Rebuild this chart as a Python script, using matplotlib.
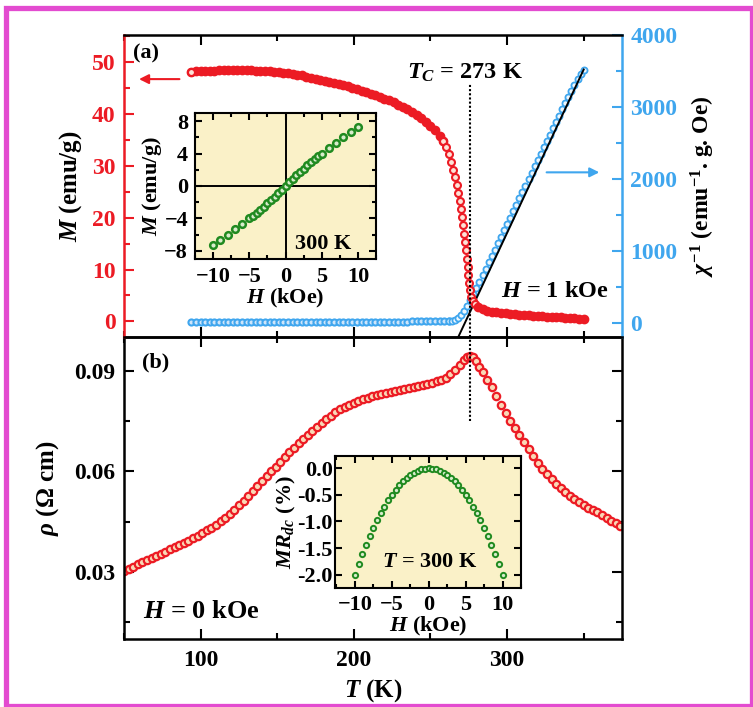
import matplotlib
matplotlib.use("Agg")
import matplotlib.pyplot as plt
from matplotlib.patches import Rectangle
from matplotlib.ticker import MultipleLocator

plt.rcParams["font.family"] = "Liberation Serif"
plt.rcParams["font.weight"] = "bold"
plt.rcParams["axes.labelweight"] = "bold"
plt.rcParams["mathtext.fontset"] = "custom"
plt.rcParams["mathtext.rm"] = "Liberation Serif:bold"
plt.rcParams["mathtext.it"] = "Liberation Serif:italic:bold"
plt.rcParams["mathtext.bf"] = "Liberation Serif:bold"

RED = "#ec1b24"
BLUE = "#3fa6ee"
GREEN = "#208a20"
PINK = "#e34bd0"
CREAM = "#faf1c8"

# (a) M(T) at H = 1 kOe
M_T = [94, 97, 100, 103, 106, 109, 112, 115, 118, 121, 124, 127, 130, 133, 136,
       139, 142, 145, 148, 151, 154, 157, 160, 163, 166, 169, 172, 175, 178, 181,
       184, 187, 190, 193, 196, 199, 202, 205, 208, 211, 214, 217, 220, 223, 226,
       229, 232, 235, 238, 241, 244, 247, 250, 253, 256, 258, 260, 262, 263.5, 265,
       266, 267, 268, 269, 269.8, 270.6, 271.3, 272, 272.6, 273.2, 273.8, 274.3,
       274.8, 275.3, 275.8, 276.5, 277.5, 279, 281, 284, 287, 290, 293, 296, 299,
       302, 305, 308, 311, 314, 317, 320, 323, 326, 329, 332, 335, 338, 341, 344,
       347, 350]
M_VAL = [48.1, 48.2, 48.2, 48.3, 48.3, 48.3, 48.4, 48.4, 48.4, 48.4, 48.4, 48.4,
         48.4, 48.4, 48.3, 48.3, 48.2, 48.2, 48.1, 48.0, 47.9, 47.8, 47.7, 47.5,
         47.4, 47.2, 47.0, 46.8, 46.6, 46.4, 46.2, 46.0, 45.8, 45.5, 45.3, 45.0,
         44.8, 44.5, 44.2, 43.9, 43.6, 43.3, 42.9, 42.6, 42.2, 41.8, 41.4, 40.9,
         40.4, 39.8, 39.2, 38.5, 37.7, 36.8, 35.7, 34.8, 33.6, 32.2, 30.8, 29.2,
         27.8, 26.3, 24.8, 23.2, 21.7, 20.1, 18.5, 16.9, 15.3, 13.7, 12.1, 10.5,
         8.9, 7.4, 6.0, 4.8, 3.9, 3.3, 2.7, 2.3, 2.1, 1.9, 1.8, 1.7, 1.6, 1.5, 1.4,
         1.3, 1.25, 1.2, 1.1, 1.05, 1.0, 0.95, 0.9, 0.85, 0.8, 0.75, 0.7, 0.6,
         0.55, 0.5]

# (a) inverse susceptibility
CHI_T = [94, 97, 100, 103, 106, 109, 112, 115, 118, 121, 124, 127, 130, 133, 136,
         139, 142, 145, 148, 151, 154, 157, 160, 163, 166, 169, 172, 175, 178, 181,
         184, 187, 190, 193, 196, 199, 202, 205, 208, 211, 214, 217, 220, 223, 226,
         229, 232, 235, 238, 241, 244, 247, 250, 253, 256, 259, 262, 264, 266, 268,
         270, 272, 274, 276, 278, 280, 282, 284, 286, 288, 290, 292, 294, 296, 298,
         300, 302, 304, 306, 308, 310, 312, 314, 316, 318, 320, 322, 324, 326, 328,
         330, 332, 334, 336, 338, 340, 342, 344, 346, 348, 350]
CHI_VAL = [5, 5, 5, 5, 6, 6, 6, 6, 6, 7, 7, 7, 7, 7, 7, 8, 8, 8, 8, 8, 8, 9, 9, 9,
           9, 9, 9, 10, 10, 10, 10, 10, 11, 11, 11, 11, 12, 12, 12, 12, 13, 13, 13,
           14, 14, 14, 15, 15, 16, 16, 17, 17, 18, 18, 19, 20, 22, 20, 35, 60, 100,
           160, 235, 315, 400, 485, 570, 660, 750, 840, 925, 1015, 1105, 1195, 1285,
           1370, 1460, 1550, 1640, 1730, 1815, 1905, 1995, 2085, 2175, 2260, 2350,
           2440, 2530, 2615, 2705, 2795, 2880, 2970, 3055, 3140, 3225, 3310, 3390,
           3460, 3520]

# Curie-Weiss fit line (end points)
FIT_T = [267.5, 350.0]
FIT_CHI = [-230, 3520]

# (a) inset: M(H) at 300 K
LOOP_H = [-10, -9, -8, -7, -6, -5, -4.5, -4, -3.5, -3, -2.5, -2, -1.5, -1, -0.5, 0,
          0.5, 1, 1.5, 2, 2.5, 3, 3.5, 4, 4.5, 5, 6, 7, 8, 9, 10]
LOOP_M = [-7.3, -6.6, -6.0, -5.3, -4.65, -4.0, -3.65, -3.3, -2.95, -2.55, -2.15,
          -1.75, -1.3, -0.9, -0.45, 0.0, 0.45, 0.9, 1.3, 1.75, 2.15, 2.55, 2.95,
          3.3, 3.65, 4.0, 4.65, 5.3, 6.0, 6.6, 7.3]

# (b) resistivity at H = 0
RHO_T = [50, 53, 56, 59, 62, 65, 68, 71, 74, 77, 80, 83, 86, 89, 92, 95, 98, 101,
         104, 107, 110, 113, 116, 119, 122, 125, 128, 131, 134, 137, 140, 143, 146,
         149, 152, 155, 158, 161, 164, 167, 170, 173, 176, 179, 182, 185, 188, 191,
         194, 197, 200, 203, 206, 209, 212, 215, 218, 221, 224, 227, 230, 233, 236,
         239, 242, 245, 248, 251, 254, 257, 260, 263, 266, 269, 272, 274, 276, 278,
         280, 282, 284, 287, 290, 293, 296, 299, 302, 305, 308, 311, 314, 317, 320,
         323, 326, 329, 332, 335, 338, 341, 344, 347, 350, 353, 356, 359, 362, 365,
         368, 371, 374]
RHO_VAL = [0.0304, 0.0310, 0.0316, 0.0323, 0.0329, 0.0335, 0.0341, 0.0348, 0.0354,
           0.0360, 0.0367, 0.0373, 0.0379, 0.0386, 0.0393, 0.0400, 0.0408, 0.0416,
           0.0424, 0.0432, 0.0441, 0.0451, 0.0461, 0.0472, 0.0485, 0.0498, 0.0512,
           0.0527, 0.0542, 0.0557, 0.0572, 0.0586, 0.0600, 0.0614, 0.0628, 0.0642,
           0.0656, 0.0669, 0.0683, 0.0696, 0.0709, 0.0721, 0.0733, 0.0745, 0.0756,
           0.0766, 0.0776, 0.0784, 0.0791, 0.0798, 0.0804, 0.0809, 0.0814, 0.0819,
           0.0823, 0.0826, 0.0830, 0.0833, 0.0837, 0.0840, 0.0843, 0.0846, 0.0849,
           0.0852, 0.0855, 0.0858, 0.0861, 0.0864, 0.0868, 0.0872, 0.0879, 0.0889,
           0.0901, 0.0916, 0.0931, 0.0939, 0.0943, 0.0940, 0.0927, 0.0911, 0.0895,
           0.0872, 0.0850, 0.0825, 0.0798, 0.0773, 0.0750, 0.0728, 0.0707, 0.0686,
           0.0666, 0.0645, 0.0625, 0.0608, 0.0592, 0.0577, 0.0563, 0.0550, 0.0538,
           0.0526, 0.0516, 0.0507, 0.0499, 0.0491, 0.0484, 0.0477, 0.0470, 0.0462,
           0.0453, 0.0445, 0.0436]

# (b) inset: MR at 300 K
MR_H = [-10, -9.5, -9, -8.5, -8, -7.5, -7, -6.5, -6, -5.5, -5, -4.5, -4, -3.5, -3,
        -2.5, -2, -1.5, -1, -0.5, 0, 0.5, 1, 1.5, 2, 2.5, 3, 3.5, 4, 4.5, 5, 5.5,
        6, 6.5, 7, 7.5, 8, 8.5, 9, 9.5, 10]
MR_VAL = [-2.00, -1.805, -1.62, -1.445, -1.28, -1.125, -0.98, -0.845, -0.72, -0.605,
          -0.50, -0.405, -0.32, -0.245, -0.18, -0.125, -0.08, -0.045, -0.02, -0.005,
          0.00, -0.005, -0.02, -0.045, -0.08, -0.125, -0.18, -0.245, -0.32, -0.405,
          -0.50, -0.605, -0.72, -0.845, -0.98, -1.125, -1.28, -1.445, -1.62, -1.805,
          -2.00]

TC_LINE = 276


def style_ticks(ax, size=17, major=7, minor=4):
    ax.tick_params(which="both", direction="in", width=1.5, labelsize=size)
    ax.tick_params(which="major", length=major)
    ax.tick_params(which="minor", length=minor)


fig = plt.figure(figsize=(7.53, 7.07), dpi=100)
fig.patches.append(Rectangle((6.5 / 753, 1 / 707), 745 / 753, 698.5 / 707,
                             transform=fig.transFigure, fill=False,
                             edgecolor=PINK, linewidth=3.8))

ax_a = fig.add_axes([0.16467, 0.52334, 0.66135, 0.42715])
ax_b = fig.add_axes([0.16467, 0.09618, 0.66135, 0.42716])
ax_r = ax_a.twinx()
ax_r.set_zorder(1)
ax_a.set_zorder(2)
ax_a.patch.set_visible(False)

# panel (a): the flat ends are densely sampled (solid band), the drop shows open circles
ax_r.plot(CHI_T[:57], CHI_VAL[:57], "o", ms=4.4, mew=1.5, mec=BLUE, mfc="#cfe5fa")
ax_r.plot(CHI_T[56:], CHI_VAL[56:], "o", ms=4.4, mew=1.3, mec=BLUE, mfc="#eef7fe")
ax_r.plot(FIT_T, FIT_CHI, color="black", lw=1.4, zorder=5)
ax_a.plot(M_T[:56], M_VAL[:56], "o", ms=5, mew=2, mec=RED, mfc=RED)
ax_a.plot(M_T[55:78], M_VAL[55:78], "o", ms=5, mew=1.5, mec=RED, mfc="#fde3d8")
ax_a.plot(M_T[78:], M_VAL[78:], "o", ms=5, mew=2, mec=RED, mfc=RED)
ax_a.plot(M_T[:1], M_VAL[:1], "o", ms=5, mew=1.5, mec=RED, mfc="#fde3d8")
ax_a.plot([TC_LINE, TC_LINE], [-3, 46], color="black", lw=1.5, ls=(0, (1, 1)))

ax_a.set_xlim(50, 375)
ax_a.set_ylim(-3, 55.2)
ax_r.set_ylim(-200, 4000)
ax_a.xaxis.set_major_locator(MultipleLocator(100))
ax_a.xaxis.set_minor_locator(MultipleLocator(50))
ax_a.yaxis.set_major_locator(MultipleLocator(10))
ax_a.yaxis.set_minor_locator(MultipleLocator(5))
ax_r.yaxis.set_major_locator(MultipleLocator(1000))
ax_r.yaxis.set_minor_locator(MultipleLocator(500))
style_ticks(ax_a)
style_ticks(ax_r)
ax_a.tick_params(axis="x", which="both", top=True, labelbottom=False)
ax_a.tick_params(axis="y", which="both", colors=RED, right=False, pad=6)
ax_r.tick_params(axis="y", which="both", colors=BLUE, pad=6)
for side in ("top", "bottom"):
    ax_a.spines[side].set_linewidth(1.8)
ax_a.spines["left"].set_color(RED)
ax_a.spines["left"].set_linewidth(1.8)
ax_a.spines["right"].set_visible(False)
for side in ("left", "top", "bottom"):
    ax_r.spines[side].set_visible(False)
ax_r.spines["right"].set_color(BLUE)
ax_r.spines["right"].set_linewidth(1.8)

ax_a.set_ylabel("$M$ (emu/g)", fontsize=18, labelpad=6)
ax_r.set_ylabel(r"$\chi^{-1}$ (emu$^{-1}$. g. Oe)", fontsize=17, labelpad=8)

ax_a.annotate("", xy=(58, 46.7), xytext=(88, 46.7),
              arrowprops=dict(arrowstyle="-|>", color=RED, lw=1.5, mutation_scale=14))
ax_r.annotate("", xy=(362, 2090), xytext=(324, 2090),
              arrowprops=dict(arrowstyle="-|>", color=BLUE, lw=1.5, mutation_scale=14))
ax_a.text(0.018, 0.94, "(a)", transform=ax_a.transAxes, fontsize=16, va="center")
ax_a.text(0.568, 0.874, "$T_C$ = 273 K", transform=ax_a.transAxes, fontsize=17.5,
          va="center")
ax_a.text(0.758, 0.15, "$H$ = 1 kOe", transform=ax_a.transAxes, fontsize=17.5,
          va="center")

# panel (b)
ax_b.plot(RHO_T, RHO_VAL, "o", ms=5.3, mew=1.6, mec=RED, mfc="#f9d8b6")
ax_b.plot([TC_LINE, TC_LINE], [0.075, 0.1], color="black", lw=1.5, ls=(0, (1, 1)))
ax_b.set_xlim(50, 375)
ax_b.set_ylim(0.01, 0.10)
ax_b.xaxis.set_major_locator(MultipleLocator(100))
ax_b.xaxis.set_minor_locator(MultipleLocator(50))
ax_b.yaxis.set_major_locator(MultipleLocator(0.03))
ax_b.yaxis.set_minor_locator(MultipleLocator(0.015))
ax_b.yaxis.set_major_formatter(lambda v, p: f"{v:.2f}")
style_ticks(ax_b)
ax_b.tick_params(which="both", top=True, right=True)
ax_b.tick_params(axis="x", pad=8)
ax_b.tick_params(axis="y", pad=6)
for s in ax_b.spines.values():
    s.set_linewidth(1.8)
ax_b.set_xlabel("$T$ (K)", fontsize=18, labelpad=4)
ax_b.set_ylabel(r"$\rho$ ($\Omega$ cm)", fontsize=18, labelpad=10)
ax_b.text(0.036, 0.914, "(b)", transform=ax_b.transAxes, fontsize=16, va="center")
ax_b.text(0.039, 0.09, "$H$ = 0 kOe", transform=ax_b.transAxes, fontsize=19,
          va="center")

# inset (a)
ins_a = fig.add_axes([0.2590, 0.6337, 0.2404, 0.2065], zorder=5)
ins_a.set_facecolor(CREAM)
ins_a.axhline(0, color="black", lw=1.4)
ins_a.axvline(0, color="black", lw=1.4)
ins_a.plot(LOOP_H, LOOP_M, "o", ms=4.8, mew=1.8, mec=GREEN, mfc="#d8eccc")
ins_a.set_xlim(-12.5, 12.5)
ins_a.set_ylim(-9, 9)
ins_a.xaxis.set_major_locator(MultipleLocator(5))
ins_a.xaxis.set_minor_locator(MultipleLocator(2.5))
ins_a.yaxis.set_major_locator(MultipleLocator(4))
ins_a.yaxis.set_minor_locator(MultipleLocator(2))
style_ticks(ins_a, size=16, major=5, minor=3)
ins_a.tick_params(which="both", top=True, right=True)
ins_a.tick_params(axis="x", pad=6)
ins_a.tick_params(axis="y", pad=5)
for s in ins_a.spines.values():
    s.set_linewidth(1.5)
ins_a.set_xlabel("$H$ (kOe)", fontsize=16, labelpad=0)
ins_a.set_ylabel("$M$ (emu/g)", fontsize=16, labelpad=0)
ins_a.text(0.55, 0.1, "300 K", transform=ins_a.transAxes, fontsize=16, va="center")

# inset (b)
ins_b = fig.add_axes([0.4449, 0.1683, 0.2470, 0.1867], zorder=5)
ins_b.set_facecolor(CREAM)
ins_b.plot(MR_H, MR_VAL, "o", ms=3.8, mew=1.4, mec=GREEN, mfc="#d8eccc")
ins_b.set_xlim(-12.7, 12.5)
ins_b.set_ylim(-2.25, 0.23)
ins_b.xaxis.set_major_locator(MultipleLocator(5))
ins_b.xaxis.set_minor_locator(MultipleLocator(2.5))
ins_b.yaxis.set_major_locator(MultipleLocator(0.5))
ins_b.yaxis.set_major_formatter(lambda v, p: f"{v:.1f}")
style_ticks(ins_b, size=16, major=5, minor=3)
ins_b.tick_params(which="both", top=True, right=True)
ins_b.tick_params(axis="x", pad=5)
ins_b.tick_params(axis="y", pad=1.5)
for s in ins_b.spines.values():
    s.set_linewidth(1.5)
ins_b.set_xlabel("$H$ (kOe)", fontsize=16, labelpad=0)
ins_b.set_ylabel("$MR_{dc}$ (%)", fontsize=16, labelpad=0)
ins_b.text(0.25, 0.2, "$T$ = 300 K", transform=ins_b.transAxes, fontsize=16,
           va="center")

fig.savefig("out.png", dpi=100)
